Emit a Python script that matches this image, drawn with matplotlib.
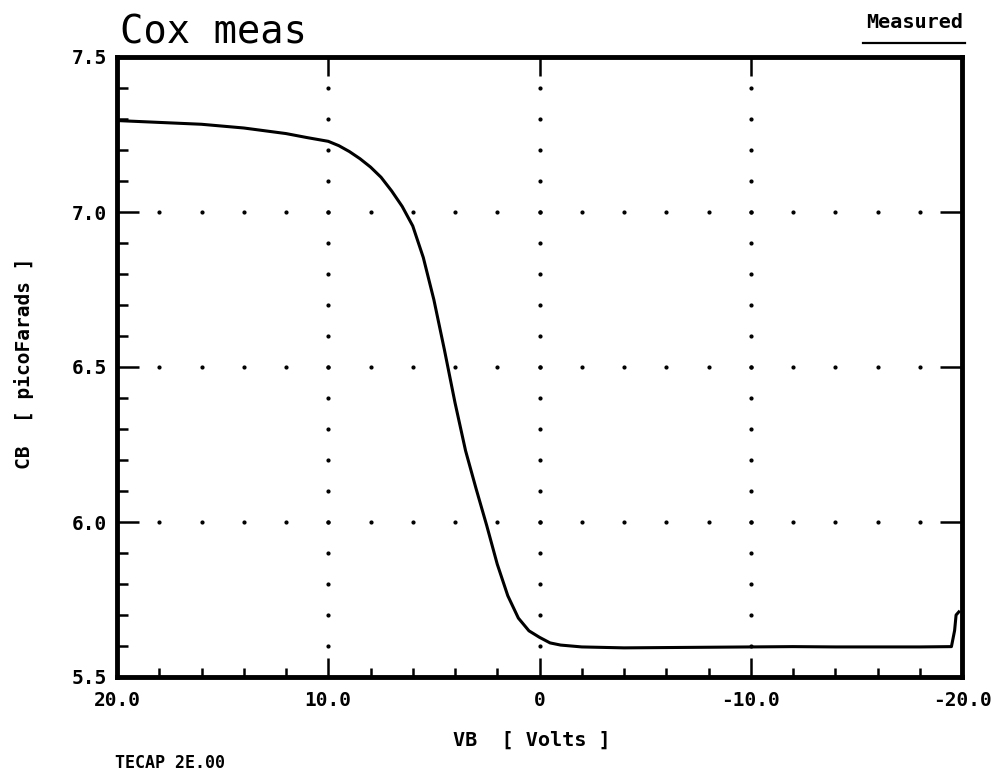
"""Recreate the TECAP 'Cox meas' C-V plot."""
import matplotlib
matplotlib.use("Agg")
import matplotlib.pyplot as plt
from matplotlib.lines import Line2D
import numpy as np

# Measured curve (VB in volts, CB in pF)
vb = [20.0, 18.0, 16.0, 14.0, 12.0, 11.0, 10.0, 9.5, 9.0, 8.5, 8.0, 7.5,
      7.0, 6.5, 6.0, 5.5, 5.0, 4.5, 4.0, 3.5, 3.0, 2.5, 2.0, 1.5, 1.0,
      0.5, 0.0, -0.5, -1.0, -2.0, -4.0, -6.0, -8.0, -10.0, -12.0, -14.0,
      -16.0, -18.0, -19.5, -19.65, -19.72, -19.85]
cb = [7.295, 7.289, 7.283, 7.271, 7.253, 7.240, 7.228, 7.214, 7.195, 7.172,
      7.145, 7.112, 7.068, 7.018, 6.955, 6.853, 6.717, 6.555, 6.385, 6.230,
      6.107, 5.989, 5.864, 5.762, 5.690, 5.649, 5.628, 5.610, 5.603, 5.597,
      5.594, 5.595, 5.596, 5.597, 5.598, 5.597, 5.597, 5.597, 5.598, 5.650,
      5.700, 5.710]

x_ticks = [20, 10, 0, -10, -20]
x_tick_labels = ["20.0", "10.0", "0", "-10.0", "-20.0"]
y_ticks = [5.5, 6.0, 6.5, 7.0, 7.5]
y_tick_labels = ["5.5", "6.0", "6.5", "7.0", "7.5"]

MONO = "DejaVu Sans Mono"
W, H = 992, 778

fig = plt.figure(figsize=(W / 100, H / 100), dpi=100)
fig.patch.set_facecolor("white")
ax = fig.add_axes([117 / W, 1 - 677 / H, 845 / W, 620 / H])

ax.set_xlim(20, -20)
ax.set_ylim(5.5, 7.5)

# dotted grid: dots at minor steps along the inner major lines
x_minor = np.arange(-20, 20.01, 2.0)
y_minor = np.arange(5.5, 7.501, 0.1)
for gx in x_ticks[1:-1]:
    ax.plot(np.full(len(y_minor) - 2, gx), y_minor[1:-1], ls="none",
            marker="o", ms=2.0, color="black", zorder=1)
for gy in y_ticks[1:-1]:
    ax.plot(x_minor[1:-1], np.full(len(x_minor) - 2, gy), ls="none",
            marker="o", ms=2.0, color="black", zorder=1)

ax.plot(vb, cb, color="black", linewidth=2.2, zorder=3)

ax.set_xticks(x_ticks)
ax.set_xticklabels(x_tick_labels, fontfamily=MONO, fontweight="bold", fontsize=14)
ax.set_yticks(y_ticks)
ax.set_yticklabels(y_tick_labels, fontfamily=MONO, fontweight="bold", fontsize=14)
ax.set_xticks(x_minor, minor=True)
ax.set_yticks(y_minor, minor=True)

ax.tick_params(axis="x", which="major", direction="in", length=14, width=1.8,
               top=True, pad=10, colors="black")
ax.tick_params(axis="x", which="minor", direction="in", length=6.5, width=1.8,
               top=False)
ax.tick_params(axis="y", which="major", direction="in", length=16, width=1.8,
               right=True, pad=7)
ax.tick_params(axis="y", which="minor", direction="in", length=8, width=1.8,
               right=False)

for sp in ax.spines.values():
    sp.set_linewidth(3.5)
    sp.set_color("black")

ax.set_xlabel("VB  [ Volts ]", fontfamily=MONO, fontweight="bold", fontsize=14.5)
ax.xaxis.set_label_coords((532 - 117) / 845, -(740 - 677) / 620)
ax.set_ylabel("CB  [ picoFarads ]", fontfamily=MONO, fontweight="bold", fontsize=14)
ax.yaxis.set_label_coords((24 - 117) / 845, (677 - 363) / 620)
ax.xaxis.label.set_va("center")
ax.yaxis.label.set_va("center")

fig.text(120 / W, 1 - 43 / H, "Cox meas", fontfamily=MONO, fontsize=28,
         ha="left", va="baseline")
fig.text(963 / W, 1 - 28 / H, "Measured", fontfamily=MONO, fontweight="bold",
         fontsize=14.5, ha="right", va="baseline")
fig.add_artist(Line2D([863 / W, 965 / W], [1 - 43 / H, 1 - 43 / H],
                      transform=fig.transFigure, color="black", linewidth=1.6))
fig.text(115 / W, 1 - 768 / H, "TECAP 2E.00", fontfamily=MONO, fontweight="bold",
         fontsize=12, ha="left", va="baseline")

fig.savefig("out.png", dpi=100, facecolor="white")
plt.close(fig)
